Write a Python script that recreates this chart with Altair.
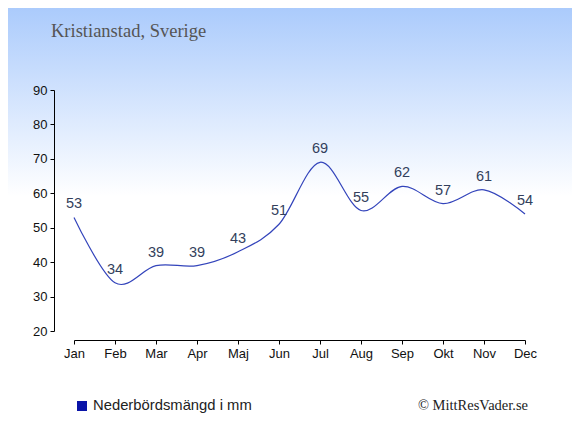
import altair as alt
import pandas as pd

months = ["Jan", "Feb", "Mar", "Apr", "Maj", "Jun", "Jul", "Aug", "Sep", "Okt", "Nov", "Dec"]
precip = [53, 34, 39, 39, 43, 51, 69, 55, 62, 57, 61, 54]
title_text = "Kristianstad, Sverige"
legend_text = "Nederbördsmängd i mm"
credit_text = "© MittResVader.se"

df = pd.DataFrame({"i": list(range(len(months))), "month": months, "mm": precip})

W, H = 491, 241
PL, PT, PR, PB = 46, 82, 27, 96

label_expr = "[" + ",".join(f"'{m}'" for m in months) + "][datum.value]"

x = alt.X("i:Q",
          scale=alt.Scale(domain=[0, 11], range=[20, 471], nice=False, zero=False),
          axis=alt.Axis(title=None, values=list(range(12)), labelExpr=label_expr, grid=False,
                        offset=9, tickSize=4, labelPadding=3, domainColor="#000", tickColor="#000",
                        labelFlush=False, labelOverlap=False,
                        labelFont="Liberation Sans", labelFontSize=13, labelColor="#111", zindex=2))
y = alt.Y("mm:Q",
          scale=alt.Scale(domain=[20, 90], nice=False, zero=False),
          axis=alt.Axis(title=None, values=list(range(20, 91, 10)), grid=False,
                        tickSize=4, labelPadding=3, domainColor="#000", tickColor="#000",
                        labelFlush=False, labelOverlap=False,
                        labelFont="Liberation Sans", labelFontSize=13, labelColor="#111", zindex=2))

bg = alt.Chart(df).mark_rect(
    fill=alt.Gradient(gradient="linear", x1=0, x2=0, y1=0, y2=1,
                      stops=[alt.GradientStop(offset=0, color="#abcbfc"),
                             alt.GradientStop(offset=0.45, color="#ffffff"),
                             alt.GradientStop(offset=1, color="#ffffff")])
).encode(x=alt.value(-PL), x2=alt.value(W + PR), y=alt.value(-PT), y2=alt.value(H + PB))

line = alt.Chart(df).mark_line(interpolate="cardinal", color="#3344bb", strokeWidth=1.2).encode(x=x, y=y)

labels = alt.Chart(df).mark_text(dy=-13, baseline="middle", font="Liberation Sans", fontSize=14.5,
                                 color="#333f5c").encode(x=x, y=y, text="mm:Q")

title = alt.Chart(pd.DataFrame({"t": [title_text]})).mark_text(
    align="left", baseline="alphabetic", font="Liberation Serif", fontSize=18.5, color="#555555"
).encode(x=alt.value(-3), y=alt.value(-53), text="t:N")

legend_sq = alt.Chart(pd.DataFrame({"t": [legend_text]})).mark_square(
    size=100, color="#0a14a8", opacity=1
).encode(x=alt.value(28), y=alt.value(316))

legend_txt = alt.Chart(pd.DataFrame({"t": [legend_text]})).mark_text(
    align="left", baseline="middle", font="Liberation Sans", fontSize=14.8, color="#222222"
).encode(x=alt.value(39), y=alt.value(316), text="t:N")

credit = alt.Chart(pd.DataFrame({"t": [credit_text]})).mark_text(
    align="right", baseline="middle", font="Liberation Serif", fontSize=14.5, color="#222222"
).encode(x=alt.value(474), y=alt.value(316), text="t:N")

chart = alt.layer(bg, line, labels, title, legend_sq, legend_txt, credit).properties(
    width=W, height=H,
    autosize=alt.AutoSizeParams(type="none"),
    padding={"left": PL, "top": PT, "right": PR, "bottom": PB},
).configure_view(stroke=None).configure(background="#ffffff")

chart.save("out.html", embed_options={"renderer": "svg", "actions": False})
